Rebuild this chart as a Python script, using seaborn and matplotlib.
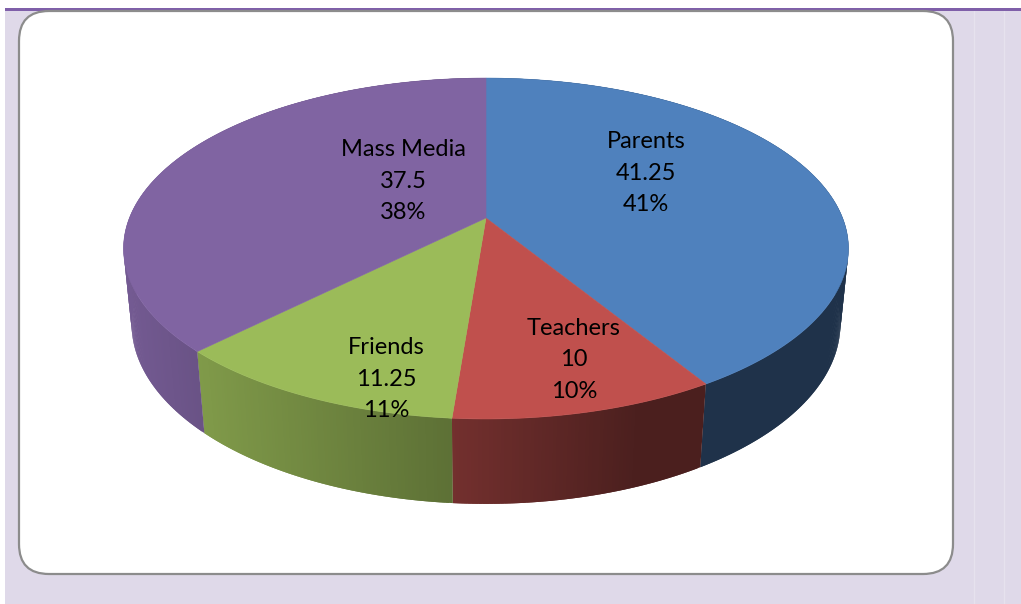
import numpy as np
import matplotlib
matplotlib.use("Agg")
import matplotlib.pyplot as plt
import seaborn as sns
from matplotlib.patches import FancyBboxPatch, Rectangle
from matplotlib.path import Path
from matplotlib.transforms import Transform, Affine2D

# ---- data -------------------------------------------------------------
categories = ["Parents", "Teachers", "Friends", "Mass Media"]
values = [41.25, 10, 11.25, 37.5]
slice_colors = ["#4F81BD", "#C0504D", "#9BBB59", "#8064A2"]

# ---- style ------------------------------------------------------------
sns.set_theme(style="white")
plt.rcParams["font.family"] = ["Lato", "DejaVu Sans"]
palette = sns.color_palette(slice_colors)

# perspective camera of the disc, in pixels of the page
CX, CY = 486.0, 218.0
A, B, P = 356.6, 165.0, 0.179
Q, C = 0.022, 76.0


def project(u, v, z=0.0):
    """Unit disc coordinates (z=0 top face, z=-1 bottom face) -> page pixels."""
    den = 1 + P * v - Q * z
    return CX + A * u / den, CY - (B * v + C * z) / den


class DiscProjection(Transform):
    input_dims = output_dims = 2
    is_separable = False
    has_inverse = False

    def transform_non_affine(self, values):
        values = np.asarray(values, dtype=float)
        x, y = project(values[:, 0], values[:, 1])
        return np.column_stack([x, y])

    def transform_path_non_affine(self, path):
        scaled = path.transformed(Affine2D().scale(2000))
        poly = scaled.to_polygons()[0] / 2000
        return Path(self.transform_non_affine(poly), closed=True)


def wall_shade(x):
    return np.interp(x, [124, 203, 452, 640, 850], [0.90, 0.82, 0.60, 0.39, 0.39])


fig = plt.figure(figsize=(10.21, 6.04), dpi=100, facecolor="white")
ax = fig.add_axes([0, 0, 1, 1])

# the pie itself: angles come from the values
wedges, _ = ax.pie(values, colors=palette, startangle=90, counterclock=False,
                   radius=1, wedgeprops=dict(linewidth=0.4))
ax.set_aspect("auto")
ax.set_xlim(0, 1021)
ax.set_ylim(604, 0)
ax.axis("off")

# page furniture
ax.add_patch(Rectangle((5, 8), 1016, 596, fc="#DFD9E9", ec="none", zorder=0))
for x in (974, 1004):
    ax.plot([x, x], [11, 604], color="#E6E2EE", lw=1, zorder=0.5)
ax.add_patch(Rectangle((5, 8), 1016, 3, fc="#7F5FA9", ec="none", zorder=0.6))
ax.add_patch(FancyBboxPatch((49, 41), 874, 503,
                            boxstyle="round,pad=30,rounding_size=30",
                            fc="white", ec="#8C8C8C", lw=1.6, zorder=1))

# side walls of each slice, same angles as the pie; every strip overlaps the
# following one so that no seams show between them
total = sum(values)
edges = 90 - 360 * np.cumsum([0] + values) / total
for start, stop, color in zip(edges[:-1], edges[1:], palette):
    n = max(int(abs(stop - start) * 2), 2)
    th = np.radians(np.linspace(start, stop, n + 1))
    u, v = np.cos(th), np.sin(th)
    xt, yt = project(u, v, 0.0)
    xb, yb = project(u, v, -1.0)
    for i in range(n):
        j = min(i + 2, n)
        shade = wall_shade((xt[i] + xt[i + 1]) / 2)
        c = tuple(np.array(color) * shade)
        ax.fill([xt[i], xt[j], xb[j], xb[i]],
                [yt[i], yt[j], yb[j], yb[i]],
                fc=c, ec="none", lw=0, zorder=2)

# top face
proj = DiscProjection() + ax.transData
for w, color in zip(wedges, palette):
    w.set_transform(proj)
    w.set_edgecolor(color)
    w.set_zorder(3)
    w.set_clip_on(False)

# labels
label_xy = [(646, 173), (574, 360), (386, 379), (403, 181)]
for name, val, (x, y) in zip(categories, values, label_xy):
    ax.text(x, y, f"{name}\n{val:g}\n{val / total:.0%}", ha="center", va="center",
            ma="center", fontsize=17, color="black", linespacing=1.62, zorder=4)

fig.savefig("out.png", dpi=100)
